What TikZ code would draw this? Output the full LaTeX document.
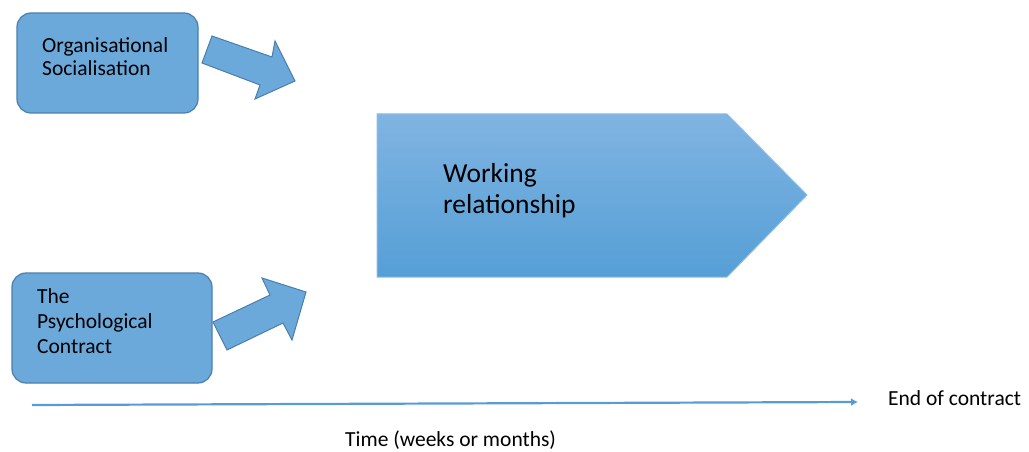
\documentclass[tikz,border=0pt]{standalone}
\usepackage{fontspec}
\setmainfont{Carlito}
\usetikzlibrary{arrows.meta,calc,positioning}
\definecolor{boxfill}{HTML}{6AA9DA}
\definecolor{boxline}{HTML}{4A7EAD}
\definecolor{bigtop}{HTML}{80B4E2}
\definecolor{bigbot}{HTML}{559FD6}
\definecolor{bigline}{HTML}{8CBDE6}
\definecolor{timeline}{HTML}{5B9BD5}
\tikzstyle{box}       =[draw=boxline, fill=boxfill, line width=1.2pt,
                        rounded corners=14pt]
\tikzstyle{blockarrow}=[draw=boxline, fill=boxfill, line width=1pt]
\tikzstyle{txt}       =[inner sep=0pt, anchor=base west, align=left,
                        font=\fontsize{21.5}{24}\selectfont]
\tikzstyle{bigtxt}    =[txt, font=\fontsize{27.5}{32}\selectfont]

\begin{document}
\begin{tikzpicture}[x=1pt, y=-1pt]
    \useasboundingbox (0,0) rectangle (1029,452);
    % left boxes
    \draw[box] (17,13) rectangle (198,113);
    \draw[box] (12,273) rectangle (212,383);
    \node (os1) [txt] at (42,53) {Organisational};
    \node (os2) [txt] at (42,76) {Socialisation};
    \node (pc1) [txt] at (37,303) {The};
    \node (pc2) [txt] at (37,328) {Psychological};
    \node (pc3) [txt] at (37,353) {Contract};
    % block arrows
    \draw[blockarrow] (212,36) -- (272,57) -- (275,41) -- (295,81)
        -- (255,99) -- (260,85) -- (202,63) -- cycle;
    \draw[blockarrow] (213,322) -- (270,295) -- (262,278) -- (306,292)
        -- (292,340) -- (283,323) -- (227,350) -- cycle;
    % working relationship
    \shade[top color=bigtop, bottom color=bigbot]
        (377,114) -- (727,114) -- (807,195) -- (727,277) -- (377,277) -- cycle;
    \draw[bigline, line width=1pt]
        (377,114) -- (727,114) -- (807,195) -- (727,277) -- (377,277) -- cycle;
    \node (wr1) [bigtxt] at (443,182) {Working};
    \node (wr2) [bigtxt] at (443,213) {relationship};
    % time axis
    \coordinate (t0) at (32,405);
    \coordinate (t1) at (858,402);
    \draw[timeline, line width=2.2pt, -{Latex[length=7pt,width=8pt]}] (t0) -- (t1);
    \node (end) [txt] at (888,405) {End of contract};
    \node (time) [txt] at (345,446) {Time (weeks or months)};
\end{tikzpicture}
\end{document}
